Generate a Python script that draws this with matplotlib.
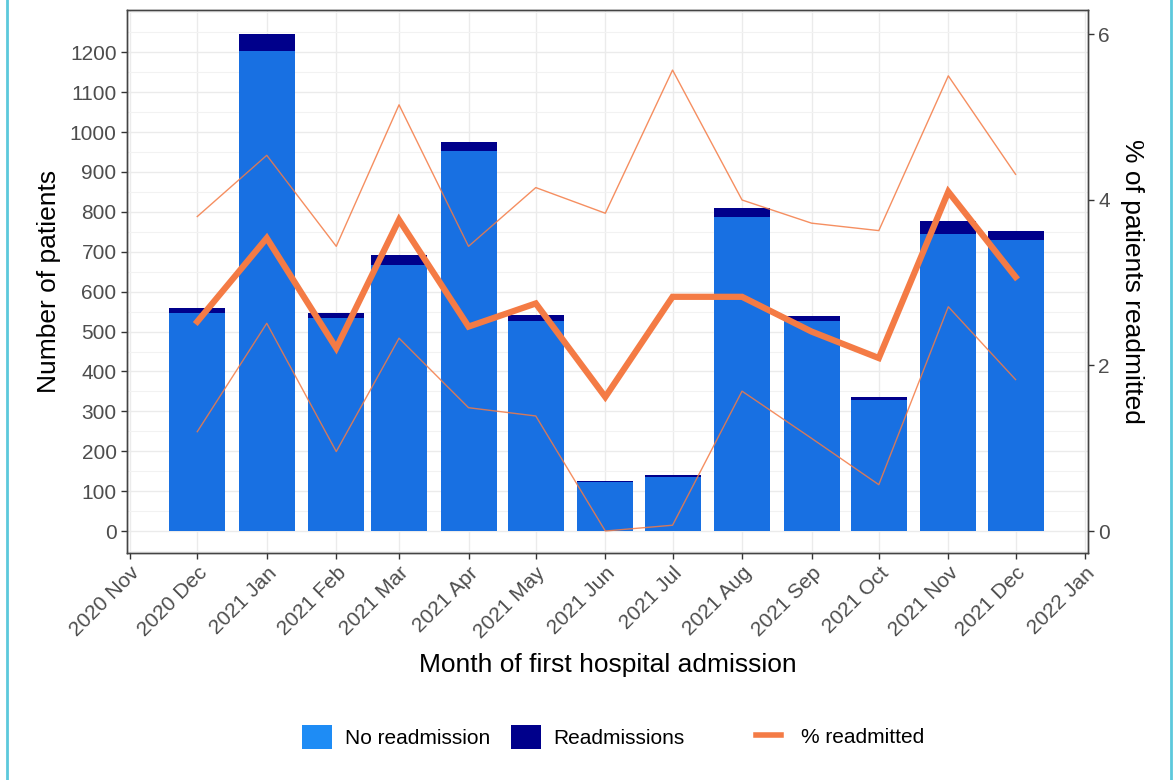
import pandas as pd
import matplotlib.pyplot as plt
import matplotlib.dates as mdates
from matplotlib.patches import Patch
from matplotlib.lines import Line2D
from matplotlib.ticker import MultipleLocator

plt.rcParams['font.family'] = ['Liberation Sans', 'DejaVu Sans']

# data
months = ["2020-12-01", "2021-01-01", "2021-02-01", "2021-03-01", "2021-04-01",
          "2021-05-01", "2021-06-01", "2021-07-01", "2021-08-01", "2021-09-01",
          "2021-10-01", "2021-11-01", "2021-12-01"]
total = [560, 1247, 546, 692, 976, 541, 125, 140, 809, 539, 335, 777, 753]
readmissions = [14, 44, 12, 26, 24, 15, 2, 4, 23, 13, 7, 32, 23]
pct_readmitted = [2.53, 3.54, 2.21, 3.76, 2.47, 2.75, 1.62, 2.83, 2.83, 2.41, 2.09, 4.10, 3.07]
pct_upper = [3.80, 4.54, 3.44, 5.15, 3.44, 4.15, 3.84, 5.57, 4.00, 3.72, 3.63, 5.50, 4.31]
pct_lower = [1.20, 2.51, 0.96, 2.33, 1.49, 1.39, 0.00, 0.07, 1.69, 1.12, 0.56, 2.71, 1.83]

dates = pd.to_datetime(months)
no_readmission = [t - r for t, r in zip(total, readmissions)]

bar_blue = "#1870E2"
key_blue = "#1E8CF5"
navy = "#00008B"
orange = "#F47B45"
tick_grey = "#4d4d4d"

fig = plt.figure(figsize=(11.75, 7.8), dpi=100)
ax = fig.add_axes([0.1081, 0.2910, 0.8179, 0.6962])
ax2 = ax.twinx()

ax.bar(dates, no_readmission, width=25, color=bar_blue, zorder=2)
ax.bar(dates, readmissions, width=25, bottom=no_readmission, color=navy, zorder=2)

ax2.plot(dates, pct_upper, color=orange, lw=1.0, alpha=0.85)
ax2.plot(dates, pct_lower, color=orange, lw=1.0, alpha=0.85)
ax2.plot(dates, pct_readmitted, color=orange, lw=4.5, solid_joinstyle='miter')

ax.set_xlim(pd.Timestamp("2020-10-30 16:00"), pd.Timestamp("2022-01-02 08:00"))
ax.set_ylim(-55, 1306)
ax2.set_ylim(-0.266, 6.296)

ax.set_xticks(pd.date_range("2020-11-01", "2022-01-01", freq="MS"))
ax.xaxis.set_major_formatter(mdates.DateFormatter("%Y %b"))
ax.set_yticks(range(0, 1201, 100))
ax.yaxis.set_minor_locator(MultipleLocator(50))
ax2.set_yticks([0, 2, 4, 6])

ax.set_axisbelow(True)
ax.grid(which='major', color='#ebebeb', lw=1.0)
ax.grid(which='minor', axis='y', color='#f2f2f2', lw=0.8)

for a in (ax, ax2):
    for s in a.spines.values():
        s.set_color('#444444')
        s.set_linewidth(1.0)
    a.tick_params(which='major', length=4, width=1.0, color='#333333',
                  labelcolor=tick_grey, labelsize=15)
    a.tick_params(which='minor', length=0)

plt.setp(ax.get_xticklabels(), rotation=45, ha='right', rotation_mode='anchor')

ax.set_ylabel("Number of patients", fontsize=19, labelpad=6)
ax2.set_ylabel("% of patients readmitted", fontsize=19, rotation=270, labelpad=24)
ax.set_xlabel("Month of first hospital admission", fontsize=19, labelpad=8)

fill_handles = [Patch(facecolor=key_blue, label="No readmission"),
                Patch(facecolor=navy, label="Readmissions")]
fig.legend(handles=fill_handles, loc='center', bbox_to_anchor=(0.42, 0.055),
           ncol=2, frameon=False, fontsize=15, handlelength=1.45,
           handleheight=1.45, handletextpad=0.6, columnspacing=1.0)
line_handles = [Line2D([], [], color=orange, lw=4, label="% readmitted")]
fig.legend(handles=line_handles, loc='center', bbox_to_anchor=(0.715, 0.055),
           frameon=False, fontsize=15, handlelength=1.2, handletextpad=1.0)

# thin cyan frame lines at the sides
for x in (7 / 1175, 1171 / 1175):
    fig.add_artist(Line2D([x, x], [0, 1], transform=fig.transFigure,
                          color="#5cc9dc", lw=2))

fig.savefig("out.png", dpi=100)
